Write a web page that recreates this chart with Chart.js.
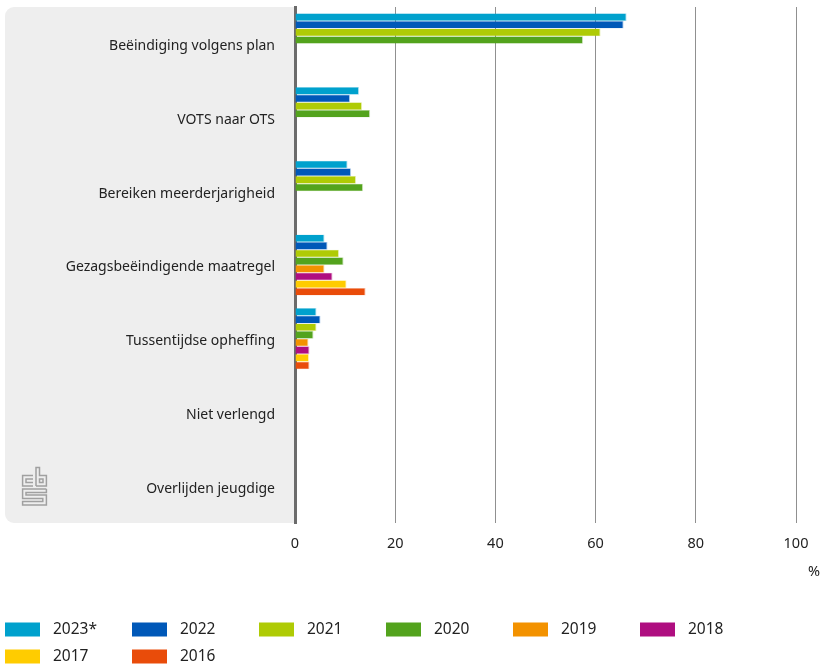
<!DOCTYPE html>
<html><head><meta charset="utf-8">
<style>html,body{margin:0;padding:0;background:#fff}#w{width:820px;height:666px}</style>
<script src="https://cdn.jsdelivr.net/npm/chart.js@4"></script></head>
<body><div id="w"><canvas id="c"></canvas></div>
<script>
const categories = ["Beëindiging volgens plan","VOTS naar OTS","Bereiken meerderjarigheid","Gezagsbeëindigende maatregel","Tussentijdse opheffing","Niet verlengd","Overlijden jeugdige"];
const xTicks = [0,20,40,60,80,100];
const years = ["2023*","2022","2021","2020","2019","2018","2017","2016"];
const colors = ["#00a1cd","#0058b8","#afcb05","#53a31d","#f39200","#af0e80","#ffcc00","#e94c0a"];
const v2023 = [66.2,12.8,10.5,5.9,4.3,null,null];
const v2022 = [65.6,11.0,11.2,6.5,5.1,null,null];
const v2021 = [61.0,13.4,12.2,8.8,4.3,null,null];
const v2020 = [57.5,15.0,13.6,9.7,3.7,null,null];
const v2019 = [null,null,null,5.9,2.7,null,null];
const v2018 = [null,null,null,7.5,2.9,null,null];
const v2017 = [null,null,null,10.3,2.8,null,null];
const v2016 = [null,null,null,14.1,2.9,null,null];
const seriesValues = [v2023,v2022,v2021,v2020,v2019,v2018,v2017,v2016];
const FONT = '"Noto Sans", sans-serif';
function alpha(hex,a){const n=parseInt(hex.slice(1),16);return `rgba(${n>>16},${(n>>8)&255},${n&255},${a})`;}

const panel = {id:'panel',beforeDraw(ch){
  const c=ch.ctx,a=ch.chartArea;
  c.save();c.fillStyle='#eeeeee';c.beginPath();
  c.roundRect(5,a.top,a.left-5,a.bottom-a.top,[9,0,0,9]);c.fill();
  // logo
  c.strokeStyle='#a0a0a0';c.lineWidth=1.5;c.beginPath();
  c.moveTo(33,475.5);c.lineTo(22.6,475.5);c.lineTo(22.6,486);c.lineTo(33,486);
  c.moveTo(33,479);c.lineTo(26,479);c.lineTo(26,482.5);c.lineTo(33,482.5);
  c.moveTo(36,486);c.lineTo(36,467.6);c.lineTo(39.5,467.6);c.lineTo(39.5,475.5);c.lineTo(46.4,475.5);c.lineTo(46.4,486);c.lineTo(36,486);
  c.rect(39.5,479,3.5,3.5);
  c.moveTo(46.4,489);c.lineTo(22.6,489);c.lineTo(22.6,498.5);c.lineTo(42.8,498.5);c.lineTo(42.8,501.5);c.lineTo(22.6,501.5);c.lineTo(22.6,505);c.lineTo(46.4,505);c.lineTo(46.4,495);c.lineTo(26,495);c.lineTo(26,492.5);c.lineTo(46.4,492.5);c.lineTo(46.4,489);
  c.stroke();c.restore();
}};
const legendGrid = {id:'legendGrid',afterDraw(ch){
  const c=ch.ctx;c.save();c.font='15.5px '+FONT;c.textBaseline='middle';c.textAlign='left';
  ch.data.datasets.forEach((d,i)=>{
    const col=i%6,row=Math.floor(i/6),x=5+col*127,y=629.5+row*27;
    c.fillStyle=d.backgroundColor;c.fillRect(x,y-7,35,14);
    c.fillStyle='#222222';c.fillText(d.label,x+48,y);
  });
  c.font='14.5px '+FONT;c.textAlign='right';c.fillText('%',820,571.5);
  c.restore();
}};
new Chart(document.getElementById('c'),{
  type:'bar',
  data:{labels:categories,datasets:years.map((y,i)=>({label:y,data:seriesValues[i],backgroundColor:colors[i],borderColor:alpha(colors[i],0.3),borderWidth:{top:0.5,bottom:0.5,right:1,left:0}}))},
  plugins:[panel,legendGrid],
  options:{
    indexAxis:'y',responsive:true,maintainAspectRatio:false,animation:false,
    layout:{padding:{top:7,right:24,left:0,bottom:0}},
    datasets:{bar:{barPercentage:1,categoryPercentage:0.83}},
    plugins:{legend:{display:false},tooltip:{enabled:false},title:{display:false}},
    scales:{
      x:{type:'linear',min:0,max:100,position:'bottom',
        afterFit(s){s.height=143;s.paddingLeft=0;s.paddingRight=0;},
        afterBuildTicks(s){s.ticks=xTicks.map(v=>({value:v}));},
        grid:{color:'#909090',lineWidth:1,drawTicks:false},border:{display:false},
        ticks:{color:'#222222',font:{family:FONT,size:14.5},padding:12,maxRotation:0}},
      y:{type:'category',position:'left',
        afterFit(s){s.width=295;s.paddingTop=0;s.paddingBottom=0;},
        grid:{display:false,drawTicks:false},border:{display:true,color:'#6b6b6b',width:3},
        ticks:{color:'#222222',font:{family:FONT,size:14},padding:20,autoSkip:false,labelOffset:2.5}}
    }
  }
});
</script></body></html>
